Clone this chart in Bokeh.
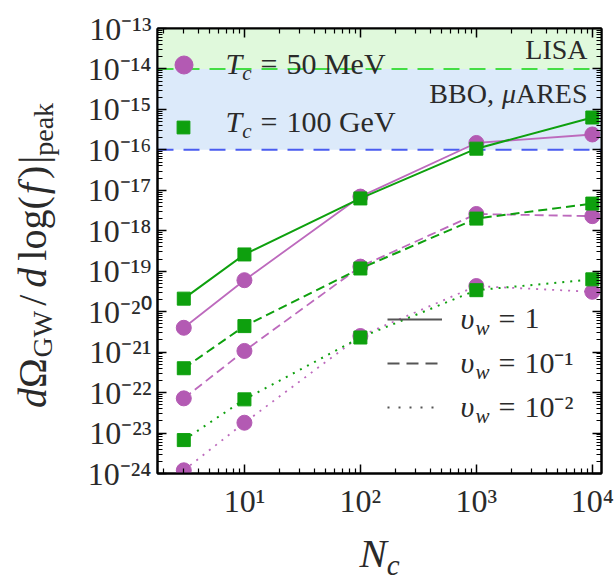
import math
from bokeh.plotting import figure
from bokeh.layouts import row, column
from bokeh.models import (Range1d, LogAxis, FixedTicker, BoxAnnotation, Span, Label,
                          Legend, LegendItem)
from bokeh.embed import file_html
from bokeh.resources import INLINE

# ---------------- data ----------------
N_c = [3, 10, 100, 1000, 10000]
# T_c = 50 MeV  (purple circles)
mev_vw1 = [4.0e-21, 6.0e-20, 7.0e-18, 1.48e-16, 2.4e-16]
mev_vw01 = [7.2e-23, 1.07e-21, 1.3e-19, 2.6e-18, 2.3e-18]
mev_vw001 = [1.2e-24, 1.8e-23, 2.5e-21, 4.3e-20, 3.1e-20]
# T_c = 100 GeV (green squares)
gev_vw1 = [2.1e-20, 2.6e-19, 6.3e-18, 1.07e-16, 6.3e-16]
gev_vw01 = [4.0e-22, 4.4e-21, 1.17e-19, 2.0e-18, 4.7e-18]
gev_vw001 = [6.7e-24, 6.8e-23, 2.3e-21, 3.4e-20, 6.3e-20]

lisa_level = 1e-14
bbo_level = 1e-16

x_ticks = [10, 100, 1000, 10000]
x_tick_labels = ["10¹", "10²", "10³", "10⁴"]
y_ticks = [1e-24, 1e-23, 1e-22, 1e-21, 1e-20, 1e-19, 1e-18, 1e-17, 1e-16, 1e-15, 1e-14, 1e-13]
y_tick_labels = ["10⁻²⁴", "10⁻²³", "10⁻²²", "10⁻²¹", "10⁻²⁰", "10⁻¹⁹", "10⁻¹⁸",
                 "10⁻¹⁷", "10⁻¹⁶", "10⁻¹⁵", "10⁻¹⁴", "10⁻¹³"]

# ---------------- style ----------------
FONT = "Liberation Serif"
TXT = "#2a2a2a"
PURPLE = "#b35ab3"
PURPLE_LINE = "#bd6abd"
GREEN = "#0ea00e"
GRAY = "#555555"
NAN = float("nan")

p = figure(width=545, height=530, x_axis_type="log", y_axis_type="log",
           x_range=Range1d(1.78, 12000), y_range=Range1d(1e-24, 1e-13),
           output_backend="svg", toolbar_location=None,
           min_border_left=87, min_border_right=14, min_border_top=28, min_border_bottom=57)
p.xgrid.visible = False
p.ygrid.visible = False
p.outline_line_color = "black"
p.outline_line_width = 2
p.background_fill_color = "white"
p.border_fill_color = "white"

x_minor = [k * 10 ** e for e in range(0, 4) for k in range(2, 10)]
y_minor = [k * t for t in y_ticks[:-1] for k in range(2, 10)]


def style_axis(ax, ticks, minor, labels, standoff):
    ax.ticker = FixedTicker(ticks=ticks, minor_ticks=minor)
    ax.major_label_overrides = dict(zip(ticks, labels))
    ax.axis_line_color = "black"
    ax.axis_line_width = 2
    ax.major_tick_in = 9
    ax.major_tick_out = 0
    ax.minor_tick_in = 5
    ax.minor_tick_out = 0
    ax.major_tick_line_color = "black"
    ax.major_tick_line_width = 1.5
    ax.minor_tick_line_color = "black"
    ax.minor_tick_line_width = 1.2
    ax.major_label_text_font = FONT
    ax.major_label_text_font_size = "32px"
    ax.major_label_text_color = TXT
    ax.major_label_standoff = standoff


style_axis(p.xaxis[0], x_ticks, x_minor, x_tick_labels, 9)
style_axis(p.yaxis[0], y_ticks, y_minor, y_tick_labels, 6)
top_ax = LogAxis()
right_ax = LogAxis()
style_axis(top_ax, x_ticks, x_minor, ["" for _ in x_ticks], 0)
style_axis(right_ax, y_ticks, y_minor, ["" for _ in y_ticks], 0)
p.add_layout(top_ax, "above")
p.add_layout(right_ax, "right")

# ---------------- sensitivity bands ----------------
p.add_layout(BoxAnnotation(bottom=lisa_level, fill_color="#e0f9dc", fill_alpha=1,
                           line_color=None, level="underlay"))
p.add_layout(BoxAnnotation(bottom=bbo_level, top=lisa_level, fill_color="#dceafa", fill_alpha=1,
                           line_color=None, level="underlay"))
p.add_layout(Span(location=lisa_level, dimension="width", line_color="#44dd44",
                  line_width=2, line_dash="16 10", level="underlay"))
p.add_layout(Span(location=bbo_level, dimension="width", line_color="#4a5cf0",
                  line_width=2, line_dash="16 10", level="underlay"))

# ---------------- series ----------------
dashes = ["solid", "9 5", "2 6"]
rend = {}
for name, vals, dash in [("mev1", mev_vw1, dashes[0]), ("mev01", mev_vw01, dashes[1]),
                         ("mev001", mev_vw001, dashes[2])]:
    p.line(N_c, vals, line_color=PURPLE_LINE, line_width=1.8, line_dash=dash)
    rend[name] = p.scatter(N_c, vals, marker="circle", size=15, fill_color=PURPLE,
                           line_color=PURPLE)
for name, vals, dash in [("gev1", gev_vw1, dashes[0]), ("gev01", gev_vw01, dashes[1]),
                         ("gev001", gev_vw001, dashes[2])]:
    p.line(N_c, vals, line_color=GREEN, line_width=2, line_dash=dash)
    rend[name] = p.scatter(N_c, vals, marker="square", size=13, fill_color=GREEN,
                           line_color=GREEN)


# ---------------- legends (symbols) ----------------
def sym_legend(items, loc, gw, gh, spacing=0):
    lg = Legend(items=items, location=loc, glyph_width=gw, glyph_height=gh, padding=0,
                margin=0, spacing=spacing, label_standoff=0, label_width=0, label_height=0,
                label_text_font_size="1px", border_line_color=None, background_fill_alpha=0,
                inactive_fill_alpha=0)
    p.add_layout(lg)


sym_legend([LegendItem(label="", renderers=[rend["mev1"]])], (4, 386), 45, 45)
sym_legend([LegendItem(label="", renderers=[rend["gev1"]])], (10, 330), 32, 32)

g_solid = p.line(x=[NAN], y=[NAN], line_color=GRAY, line_width=2)
g_dash = p.line(x=[NAN], y=[NAN], line_color=GRAY, line_width=2, line_dash="12 7")
g_dot = p.line(x=[NAN], y=[NAN], line_color=GRAY, line_width=2, line_dash="2 9")
sym_legend([LegendItem(label="", renderers=[g_solid]),
            LegendItem(label="", renderers=[g_dash]),
            LegendItem(label="", renderers=[g_dot])], (230, 56), 55, 20, spacing=24)

# ---------------- text runs ----------------
REG = {' ': 0.25, '(': 0.333, ')': 0.333, ',': 0.25, '/': 0.278, '|': 0.2, '=': 0.564,
       'a': 0.444, 'e': 0.444, 'k': 0.5, 'p': 0.5, 'l': 0.278, 'o': 0.5, 'g': 0.5,
       'G': 0.722, 'W': 0.944, 'M': 0.889, 'V': 0.722, 'L': 0.611, 'I': 0.333, 'S': 0.556,
       'A': 0.722, 'B': 0.667, 'O': 0.722, 'R': 0.667, 'E': 0.611, 'Ω': 0.768,
       '⁻': 0.36, '¹': 0.3, '²': 0.3}
IT = {'T': 0.556, 'c': 0.444, 'd': 0.5, 'f': 0.278, 'N': 0.667, 'υ': 0.5, 'w': 0.667,
      'μ': 0.5}
K = 0.32  # empirical baseline correction


def tw(text, size, italic):
    tab = IT if italic else REG
    return sum(tab.get(ch, REG.get(ch, 0.5)) for ch in text) * size


def place(fig, runs, x0, y0, vertical=False, align="left"):
    # runs: (text, size, italic, baseline shift, gap before)
    widths = [g + tw(t, s, it) for (t, s, it, sh, g) in runs]
    total = sum(widths)
    adv = {"left": 0, "center": -total / 2, "right": -total}[align]
    for (t, s, it, sh, g), w in zip(runs, widths):
        a = adv + g
        if vertical:
            x, y, ang = x0 - sh - K * s, y0 + a, math.pi / 2
        else:
            x, y, ang = x0 + a, y0 + sh + K * s, 0
        fig.add_layout(Label(x=x, y=y, x_units="screen", y_units="screen", text=t, angle=ang,
                             text_font=FONT, text_font_size=f"{s}px",
                             text_font_style="italic" if it else "normal", text_color=TXT,
                             text_align="left", text_baseline="alphabetic"))
        adv += w


# T_c legend texts
place(p, [("T", 30, True, 0, 0), ("c", 21, True, -6, 0), ("=", 30, False, 0, 9),
          ("50 MeV", 30, False, 0, 9)], 68, 400)
place(p, [("T", 30, True, 0, 0), ("c", 21, True, -6, 0), ("=", 30, False, 0, 9),
          ("100 GeV", 30, False, 0, 9)], 68, 342)
# v_w legend texts
for lab, yy in [("1", 145), ("10⁻¹", 101), ("10⁻²", 57)]:
    place(p, [("υ", 30, True, 0, 0), ("w", 21, True, -6, 0), ("=", 30, False, 0, 9),
              (lab, 30, False, 0, 9)], 303, yy)
# detector labels
place(p, [("LISA", 28, False, 0, 0)], 430, 415, align="right")
place(p, [("BBO,", 28, False, 0, 0), ("μ", 28, True, 0, 8), ("ARES", 28, False, 0, 0)],
      430, 371, align="right")


def blank_fig(w, h):
    f = figure(width=w, height=h, output_backend="svg", toolbar_location=None,
               x_axis_location=None, y_axis_location=None, min_border=0)
    f.grid.visible = False
    f.outline_line_color = None
    f.background_fill_color = "white"
    f.border_fill_color = "white"
    return f


# y axis label (rotated), in its own strip left of the plot
ylab = blank_fig(70, 584)
place(ylab, [("d", 40, True, 0, 0), ("Ω", 40, False, 0, 0), ("GW", 28, False, -6, 0),
             ("/", 40, False, 0, 5), ("d", 40, True, 0, 7), ("log", 40, False, 0, 7),
             ("(", 40, False, 0, 0), ("f", 40, True, 0, 2), (")", 40, False, 0, 4),
             ("|", 40, False, 0, 2), ("peak", 28, False, -7, 0)],
      45, 329, vertical=True, align="center")

# x axis label in its own strip below the plot (frame aligned with the plot frame)
xlab = blank_fig(545, 54)
place(xlab, [("N", 41, True, 0, 0), ("c", 29, True, -8, 0)], 222, 18, align="center")

layout = row(ylab, column(p, xlab, spacing=0), spacing=0)
open("out.html", "w").write(file_html(layout, INLINE))
